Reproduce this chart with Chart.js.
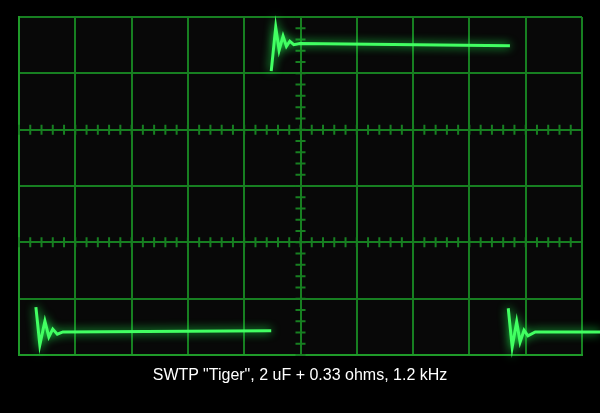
<!DOCTYPE html>
<html>
<head>
<meta charset="utf-8">
<script src="https://cdn.jsdelivr.net/npm/chart.js@4"></script>
<style>
body { margin: 0; background: #000; }
#wrap { position: relative; width: 600px; height: 413px; }
#caption {
    position: absolute; left: 0; top: 366px; width: 600px;
    text-align: center; color: #fff;
    font: 16px "Liberation Sans", Arial, sans-serif;
}
</style>
</head>
<body>
<div id="wrap">
    <canvas id="scope"></canvas>
    <div id="caption">SWTP "Tiger", 2 uF + 0.33 ohms, 1.2 kHz</div>
</div>
<script>
// time in microseconds (100 us per division), level in divisions
const lowLeftTime   = [30, 37, 46, 53, 60, 68, 78, 448];
const lowLeftLevel  = [-2.15, -2.82, -2.40, -2.68, -2.54, -2.63, -2.59, -2.57];
const highTime      = [448, 456, 462, 469, 475, 481, 488, 499, 872];
const highLevel     = [2.04, 2.82, 2.41, 2.66, 2.48, 2.57, 2.51, 2.53, 2.49];
const lowRightTime  = [869, 876, 884, 890, 897, 904, 917, 1032];
const lowRightLevel = [-2.17, -2.86, -2.41, -2.77, -2.56, -2.66, -2.59, -2.59];

const minorRows = [1, -1];   // graticule rows carrying minor ticks
const centerTime = 500;      // graticule column carrying minor ticks

const gridColor = '#177f21';
const traceColor = '#42ff62';

function toPoints(t, v) {
    return t.map((x, i) => ({ x: x, y: v[i] }));
}

const graticule = {
    id: 'graticule',
    beforeDraw(chart) {
        const { ctx, chartArea: a } = chart;
        ctx.save();
        ctx.fillStyle = '#080808';
        ctx.fillRect(a.left, a.top, a.width, a.height);
        ctx.restore();
    },
    beforeDatasetsDraw(chart) {
        const { ctx, scales: { x, y } } = chart;
        ctx.save();
        ctx.strokeStyle = gridColor;
        ctx.lineWidth = 2;
        ctx.beginPath();
        for (let t = 0; t <= 1000; t += 20) {
            const px = x.getPixelForValue(t);
            minorRows.forEach(r => {
                const py = y.getPixelForValue(r);
                ctx.moveTo(px, py - 5);
                ctx.lineTo(px, py + 5);
            });
        }
        const cx = x.getPixelForValue(centerTime);
        for (let k = -15; k <= 15; k++) {
            const py = y.getPixelForValue(k / 5);
            ctx.moveTo(cx - 5, py);
            ctx.lineTo(cx + 5, py);
        }
        ctx.stroke();
        ctx.restore();
    }
};

const glow = {
    id: 'glow',
    beforeDatasetDraw(chart) {
        chart.ctx.save();
        chart.ctx.shadowColor = 'rgba(30, 255, 80, 1)';
        chart.ctx.shadowBlur = 10;
    },
    afterDatasetDraw(chart) {
        chart.ctx.restore();
    }
};

const traceStyle = {
    borderColor: traceColor,
    borderWidth: 3,
    pointRadius: 0,
    tension: 0,
    clip: false
};

const ctx = document.getElementById('scope').getContext('2d');

const scope = new Chart(ctx, {
    type: 'line',
    data: {
        datasets: [
            { ...traceStyle, data: toPoints(lowLeftTime, lowLeftLevel) },
            { ...traceStyle, data: toPoints(highTime, highLevel) },
            { ...traceStyle, data: toPoints(lowRightTime, lowRightLevel) }
        ]
    },
    options: {
        responsive: true,
        maintainAspectRatio: false,
        animation: false,
        layout: { padding: { left: 19, right: 18, top: 17, bottom: 58 } },
        scales: {
            x: {
                type: 'linear',
                min: 0,
                max: 1000,
                ticks: { display: false, stepSize: 100 },
                grid: { color: gridColor, lineWidth: 2, drawTicks: false },
                border: { color: '#1f9a29', width: 2 }
            },
            y: {
                type: 'linear',
                min: -3,
                max: 3,
                ticks: { display: false, stepSize: 1 },
                grid: { color: gridColor, lineWidth: 2, drawTicks: false },
                border: { color: '#1f9a29', width: 2 }
            }
        },
        plugins: {
            legend: { display: false },
            tooltip: { enabled: false }
        }
    },
    plugins: [graticule, glow]
});
</script>
</body>
</html>
